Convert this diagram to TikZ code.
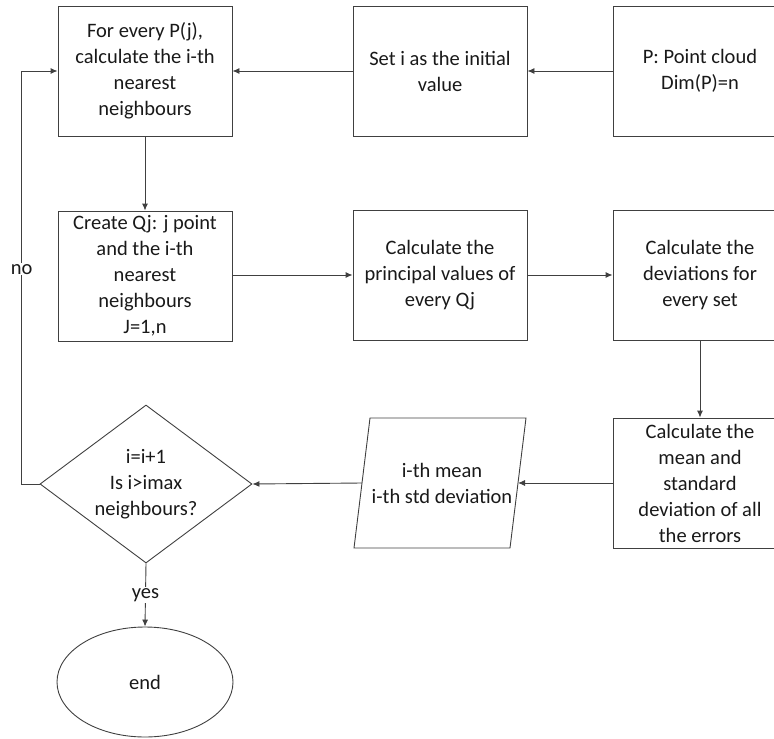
\documentclass[tikz,border=0pt]{standalone}
\usepackage{fontspec}
\setmainfont{Carlito}
\usetikzlibrary{shapes.geometric,arrows.meta}
\tikzset{
	stepbox/.style={draw=black!75,line width=0.9pt,minimum width=174pt,minimum height=130pt,
		align=center,inner sep=0pt,text=black!90,font=\fontsize{20.5pt}{26pt}\selectfont},
	decision/.style={draw=black!75,line width=0.9pt,diamond,minimum width=212pt,minimum height=158pt,inner sep=0pt},
	endbox/.style={stepbox,ellipse,minimum width=176pt,minimum height=110pt},
	txt/.style={align=center,text=black!90,font=\fontsize{20.5pt}{26pt}\selectfont},
	arr/.style={draw=black!75,line width=0.9pt,-{Latex[length=7pt,width=6pt]}}
}
\begin{document}
\begin{tikzpicture}[x=1pt,y=-1pt]
				\useasboundingbox (0,0) rectangle (774,739);
				\node[stepbox] (every) at (145,71) {For every P(j),\\calculate the i-th\\nearest\\neighbours};
				\node[stepbox] (seti) at (440,71) {Set i as the initial\\value};
				\node[stepbox] (cloud) at (700,71) {P: Point cloud\\Dim(P)=n};
				\node[stepbox] (createq) at (145,276) {Create Qj: j point\\and the i-th\\nearest\\neighbours\\J=1,n};
				\node[stepbox] (principal) at (440,275) {Calculate the\\principal values of\\every Qj};
				\node[stepbox] (devs) at (700,275) {Calculate the\\deviations for\\every set};
				\node[stepbox] (meanstd) at (700,483) {Calculate the\\mean and\\standard\\deviation of all\\the errors};
				% parallelogram
				\draw[draw=black!75,line width=0.9pt] (354,548) -- (370,418) -- (526,418) -- (510,548) -- cycle;
				\node[txt] (ithmean) at (442,483) {i-th mean\\i-th std deviation};
				\coordinate (ithmeanE) at (518,483);
				\coordinate (ithmeanW) at (362,483);
				\node[decision] (test) at (146,484) {};
				\node[txt] (testtext) at (test.center) {i=i+1\\Is i>imax\\neighbours?};
				\node[endbox] (stop) at (145,682) {end};
				\draw[arr] (cloud.west) -- (seti.east);
				\draw[arr] (seti.west) -- (every.east);
				\draw[arr] (every.south) -- (createq.north);
				\draw[arr] (createq.east |- principal.west) -- (principal.west);
				\draw[arr] (principal.east) -- (devs.west);
				\draw[arr] (devs.south) -- (meanstd.north);
				\draw[arr] (meanstd.west) -- (ithmeanE);
				\draw[arr] (ithmeanW) -- (test.east);
				\draw[arr] (test.south) -- node[txt,fill=white,inner sep=1pt] (yes) {yes} (stop.north);
				\draw[arr] (test.west) -- ++(-18,0) |- node[txt,fill=white,inner sep=1pt,pos=0.26] (no) {no} (every.west);
			\end{tikzpicture}
\end{document}
